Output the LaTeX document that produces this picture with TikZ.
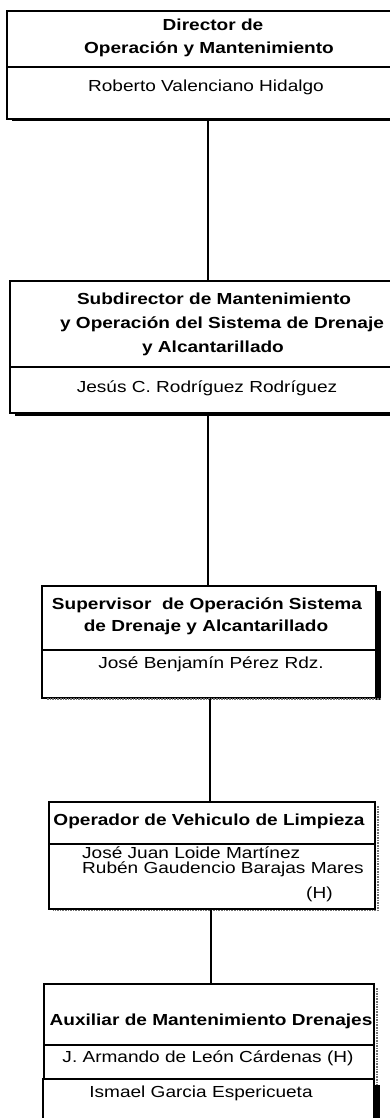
\documentclass[tikz,border=0pt]{standalone}
\usepackage{fontspec}
\setmainfont{Liberation Sans}[FakeStretch=1.19]
\begin{document}
\begin{tikzpicture}[x=1pt,y=-1pt,
  box/.style={draw, line width=1.6pt, inner sep=0pt, anchor=north west},
  ttl/.style={font=\fontsize{16}{18}\selectfont\bfseries, inner sep=0pt, anchor=mid},
  nm/.style={font=\fontsize{16}{18}\selectfont, inner sep=0pt, anchor=mid},
  nml/.style={font=\fontsize{16}{18}\selectfont, inner sep=0pt, anchor=mid west},
  link/.style={line width=1.6pt},
  hshadow/.style={fill=black},
  dshadow/.style={draw=black!55, line width=1.6pt, densely dotted}]
\clip (0,0) rectangle (390,1118);
\fill[white] (0,0) rectangle (390,1118);
% box 1
\node[box, minimum width=400pt, minimum height=56pt] (b1t) at (6,10) {};
\node[box, minimum width=400pt, minimum height=52pt] (b1n) at (6,66) {};
\fill[hshadow] (12,118) rectangle (400,121.5);
\node[ttl] (t1a) at (213,28) {Director de};
\node[ttl] (t1b) at (209,51) {Operación y Mantenimiento};
\node[nm] (n1) at (206,89) {Roberto Valenciano Hidalgo};
% box 2
\node[box, minimum width=400pt, minimum height=86pt] (b2t) at (9,280) {};
\node[box, minimum width=400pt, minimum height=46pt] (b2n) at (9,366) {};
\fill[hshadow] (15,412) rectangle (400,415.5);
\node[ttl] (t2a) at (214,302) {Subdirector de Mantenimiento};
\node[ttl] (t2b) at (222,326) {y Operación del Sistema de Drenaje};
\node[ttl] (t2c) at (213,349.5) {y Alcantarillado};
\node[nm] (n2) at (207,390) {Jesús C. Rodríguez Rodríguez};
% box 3
\node[box, minimum width=334pt, minimum height=64pt] (b3t) at (41,585) {};
\node[box, minimum width=334pt, minimum height=48pt] (b3n) at (41,649) {};
\fill[hshadow] (375.6,591) rectangle (381,700);
\draw[dshadow] (47,699) -- (381,699);
\node[ttl] (t3a) at (207,607) {Supervisor\ \ de Operación Sistema};
\node[ttl] (t3b) at (206,628.5) {de Drenaje y Alcantarillado};
\node[nm] (n3) at (211,666) {José Benjamín Pérez Rdz.};
% box 4
\node[box, minimum width=326pt, minimum height=42pt] (b4t) at (48,801) {};
\node[box, minimum width=326pt, minimum height=65pt] (b4n) at (48,843) {};
\draw[dshadow] (378,806) -- (378,910.5) -- (53,910.5);
\node[ttl] (t4a) at (209,823) {Operador de Vehiculo de Limpieza};
\node[nml] (n4a) at (82,855.5) {José Juan Loide Martínez};
\node[nml] (n4b) at (82,871) {Rubén Gaudencio Barajas Mares};
\node[nml] (n4c) at (306,896) {(H)};
% box 5
\node[box, minimum width=330pt, minimum height=61pt] (b5t) at (43,983) {};
\node[box, minimum width=330pt, minimum height=34pt] (b5n) at (43,1044) {};
\node[box, minimum width=331pt, minimum height=50pt] (b5m) at (42,1078) {};
\draw[dshadow] (377,988) -- (377,1085);
\fill[hshadow] (375,1085) rectangle (380,1125);
\node[ttl] (t5a) at (211,1023) {Auxiliar de Mantenimiento Drenajes};
\node[nm] (n5a) at (208,1060) {J. Armando de León Cárdenas (H)};
\node[nm] (n5b) at (201,1095) {Ismael Garcia Espericueta};
% connectors
\coordinate (c1) at (208,0);
\coordinate (c2) at (210,0);
\coordinate (c3) at (211,0);
\draw[link] (b1n.south -| c1) -- (b2t.north -| c1);
\draw[link] (b2n.south -| c1) -- (b3t.north -| c1);
\draw[link] (b3n.south -| c2) -- (b4t.north -| c2);
\draw[link] (b4n.south -| c3) -- (b5t.north -| c3);
\end{tikzpicture}
\end{document}
